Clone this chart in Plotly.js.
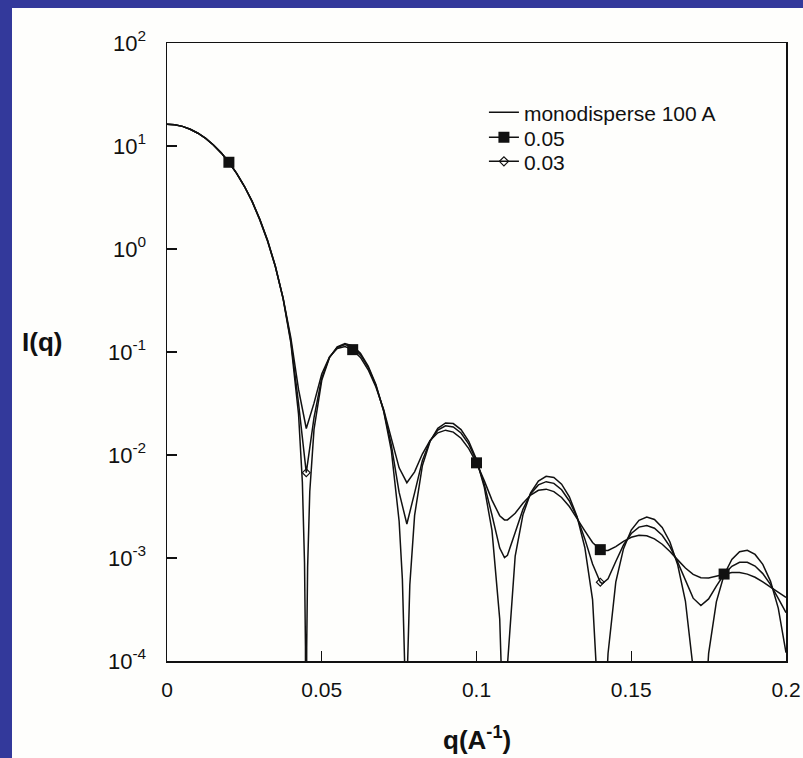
<!DOCTYPE html>
<html>
<head>
<meta charset="utf-8">
<script src="https://cdn.plot.ly/plotly-3.0.1.min.js"></script>
<style>
  html, body { margin: 0; padding: 0; background: #33399b; width: 803px; height: 758px; overflow: hidden; }
  #chart { position: absolute; left: 12px; top: 8px; width: 791px; height: 750px; background: #fefefc; }
</style>
</head>
<body>
<div id="chart"></div>
<script>
// q grid and intensities (log scale, q in 1/Angstrom)
const qMono = [0,0.0025,0.005,0.0075,0.01,0.0125,0.015,0.0175,0.02,0.0225,0.025,0.0275,0.03,0.0325,0.035,0.0375,0.04,0.0425,
  0.043734,0.044434,0.044734,0.044934,0.045134,0.045434,0.046134,
  0.0475,0.05,0.0525,0.055,0.0575,0.06,0.0625,0.065,0.0675,0.07,0.0725,0.075,
  0.076053,0.076753,0.077053,0.077253,0.077453,0.077753,0.078453,
  0.08,0.0825,0.085,0.0875,0.09,0.0925,0.095,0.0975,0.1,0.1025,0.105,0.1075,
  0.108041,0.108541,0.108841,0.109041,0.109241,0.109541,0.11,
  0.1125,0.115,0.1175,0.12,0.1225,0.125,0.1275,0.13,0.1325,0.135,0.1375,
  0.139662,0.14,0.140462,0.140662,0.140862,0.141162,0.141662,
  0.1425,0.145,0.1475,0.15,0.1525,0.155,0.1575,0.16,0.1625,0.165,0.1675,0.17,
  0.171208,0.171708,0.172208,0.1725,0.173208,
  0.175,0.1775,0.18,0.1825,0.185,0.1875,0.19,0.1925,0.195,0.1975,0.2];
const iMono = [16.3,16.097,15.502,14.552,13.306,11.838,10.233,8.577,6.953,5.430,4.066,2.899,1.948,1.2139,0.6836,0.33117,0.12361,0.024939,
  0.005472,8.953e-4,1.3957e-4,1e-8,1.3474e-4,8.198e-4,0.0044295,
  0.017721,0.05306,0.088165,0.1123,0.12101,0.11473,0.097057,0.073156,0.048251,0.026618,0.010963,0.0022761,
  6.2031e-4,1.0393e-4,1.6373e-5,1e-8,1.6036e-5,9.866e-5,5.4752e-4,
  0.002595,0.0078405,0.013612,0.018178,0.020474,0.020181,0.017627,0.013586,0.0090323,0.0048921,0.0018523,2.5674e-4,
  1.0664e-4,2.6192e-5,4.146e-6,1e-8,4.087e-6,2.5266e-5,9.107e-5,
  1.0445e-3,2.625e-3,4.2931e-3,5.5858e-3,6.2028e-3,6.0462e-3,5.2109e-3,3.9337e-3,2.5198e-3,1.2659e-3,3.9497e-4,
  3.8186e-5,1.6624e-5,1.4914e-6,1e-8,1.4914e-6,9.18e-6,3.639e-5,
  1.1826e-4,5.8374e-4,1.2326e-3,1.8686e-3,2.3254e-3,2.4999e-3,2.3672e-3,1.9765e-3,1.4316e-3,8.6022e-4,3.823e-4,8.394e-5,
  1.679e-5,4.156e-6,1e-8,1.4117e-6,1.6458e-5,
  1.1845e-4,3.757e-4,6.8876e-4,9.7014e-4,1.1495e-3,1.1877e-3,1.0829e-3,8.6657e-4,5.9339e-4,3.2613e-4,1.2044e-4];

const qPoly = [0,0.0025,0.005,0.0075,0.01,0.0125,0.015,0.0175,0.02,0.0225,0.025,0.0275,0.03,0.0325,0.035,0.0375,0.04,0.0425,
  0.045,0.0475,0.05,0.0525,0.055,0.0575,0.06,0.0625,0.065,0.0675,0.07,0.0725,0.075,0.0775,
  0.08,0.0825,0.085,0.0875,0.09,0.0925,0.095,0.0975,0.1,0.1025,0.105,0.1075,0.109041,
  0.11,0.1125,0.115,0.1175,0.12,0.1225,0.125,0.1275,0.13,0.1325,0.135,0.1375,0.14,0.140662,
  0.1425,0.145,0.1475,0.15,0.1525,0.155,0.1575,0.16,0.1625,0.165,0.1675,0.17,
  0.1725,0.175,0.1775,0.18,0.1825,0.185,0.1875,0.19,0.1925,0.195,0.1975,0.2];
const iPoly05 = [16.3,16.097,15.502,14.552,13.306,11.838,10.233,8.577,6.953,5.430,4.066,2.899,1.9063,1.1885,0.67441,0.33567,0.13751,0.043277,
  0.018088,0.031884,0.061167,0.089696,0.10816,0.11311,0.10541,0.088584,0.067234,0.045777,0.027609,0.014682,0.0075026,0.0053806,
  0.0068649,0.010213,0.013804,0.016429,0.017425,0.016685,0.014532,0.011549,0.0083934,0.0056343,0.0036478,0.0025752,0.0023446,
  0.0023425,0.0027188,0.0033994,0.0040851,0.0045472,0.0046597,0.0044074,0.0038655,0.0031635,0.0024458,0.0018367,0.0014148,0.0012051,0.0011829,
  0.0011829,0.0012885,0.0014474,0.0015896,0.0016633,0.0016443,0.0015353,0.0013607,0.0011563,0.00095909,0.00079919,0.00069324,
  0.00064369,0.00064059,0.00066569,0.00069846,0.00072128,0.00072225,0.00069731,0.00064972,0.00058762,0.00052127,0.00046096,0.00041369];
const iPoly03 = [16.3,16.097,15.502,14.552,13.306,11.838,10.233,8.577,6.953,5.430,4.066,2.899,1.9326,1.2046,0.68023,0.33281,0.12874,0.031733,
  0.0067332,0.023004,0.056096,0.08874,0.11074,0.11802,0.11118,0.093815,0.070879,0.047294,0.027003,0.012416,0.0043288,0.0021404,
  0.0042916,0.008789,0.013689,0.01747,0.019232,0.018748,0.016349,0.012739,0.0087648,0.0052052,0.0026148,0.0012489,0.0010081,
  0.0010618,0.001772,0.002964,0.0042013,0.0051237,0.0055107,0.0053052,0.0045974,0.0035795,0.0024856,0.0015329,0.00087613,0.00058224,0.00056431,
  0.00062934,0.00092519,0.0013377,0.0017309,0.0019958,0.0020704,0.0019457,0.0016616,0.0012895,0.00091182,0.00060147,0.00040734,
  0.00034556,0.00040082,0.00053383,0.00069405,0.00083179,0.0009097,0.00090987,0.00083505,0.00070546,0.00055127,0.00040554,0.00029454];

// marker positions
const qMark05 = [0.02,0.06,0.1,0.14,0.18];
const iMark05 = [6.953,0.10541,0.0083934,0.0012051,0.00069846];
const qMark03 = [0.045,0.14];
const iMark03 = [0.0067332,0.00058224];

const seriesNames = ['monodisperse 100 A','0.05','0.03'];
const xTickVals = [0,0.05,0.1,0.15,0.2];
const yTickVals = [1e-4,1e-3,1e-2,1e-1,1,10,100];
const yTickText = ['10<sup>-4</sup>','10<sup>-3</sup>','10<sup>-2</sup>','10<sup>-1</sup>','10<sup>0</sup>','10<sup>1</sup>','10<sup>2</sup>'];

const ink = '#111111';
const lw = 1.5;
const FONT = 'Arial, "Liberation Sans", sans-serif';

const traces = [
  {x: qMono, y: iMono, mode: 'lines', name: seriesNames[0], line: {color: ink, width: lw}, showlegend: true, legend: 'legend'},
  {x: qPoly, y: iPoly05, mode: 'lines', name: seriesNames[1], line: {color: ink, width: lw}, showlegend: false},
  {x: qPoly, y: iPoly03, mode: 'lines', name: seriesNames[2], line: {color: ink, width: lw}, showlegend: false},
  {x: qMark05, y: iMark05, mode: 'markers', name: seriesNames[1], marker: {symbol: 'square', size: 11, color: ink}, showlegend: false},
  {x: qMark03, y: iMark03, mode: 'markers', name: seriesNames[2], marker: {symbol: 'diamond-open', size: 6, color: ink, line: {width: 1.2, color: ink}}, showlegend: false},
  {x: [null], y: [null], mode: 'lines+markers', name: seriesNames[1], line: {color: ink, width: lw}, marker: {symbol: 'square', size: 11, color: ink}, legend: 'legend2'},
  {x: [null], y: [null], mode: 'lines+markers', name: seriesNames[2], line: {color: ink, width: lw}, marker: {symbol: 'diamond-open', size: 7, color: ink, line: {width: 1.2, color: ink}}, legend: 'legend3'}
];

const legendBase = {x: 0.512, xanchor: 'left', yanchor: 'top', bgcolor: 'rgba(0,0,0,0)', borderwidth: 0,
                    font: {family: FONT, size: 21, color: ink}};

const layout = {
  width: 791, height: 750,
  margin: {l: 155, r: 17, t: 35, b: 97},
  paper_bgcolor: '#fefefc',
  plot_bgcolor: '#fefefc',
  font: {family: FONT, size: 21, color: ink},
  showlegend: true,
  legend: Object.assign({}, legendBase, {y: 0.9204}),
  legend2: Object.assign({}, legendBase, {y: 0.8799}),
  legend3: Object.assign({}, legendBase, {y: 0.8411}),
  xaxis: {
    range: [0, 0.2], tickvals: xTickVals, ticks: 'inside', ticklen: 10, tickwidth: 1.4, tickcolor: ink,
    showline: true, mirror: true, linecolor: ink, linewidth: 1.5, showgrid: false, zeroline: false,
    tickfont: {family: FONT, size: 21, color: ink}, ticklabelstandoff: 9
  },
  yaxis: {
    type: 'log', range: [-4, 2], tickvals: yTickVals, ticktext: yTickText, ticks: 'inside', ticklen: 10, tickwidth: 1.4, tickcolor: ink,
    showline: true, mirror: true, linecolor: ink, linewidth: 1.5, showgrid: false, zeroline: false,
    tickfont: {family: FONT, size: 22, color: ink}, ticklabelstandoff: 15
  },
  annotations: [
    {text: '<b>I(q)</b>', xref: 'paper', yref: 'paper', x: -0.202, y: 0.516, xanchor: 'center', yanchor: 'middle', showarrow: false,
     font: {family: FONT, size: 26, color: ink}},
    {text: '<b>q(A<sup>-1</sup>)</b>', xref: 'paper', yref: 'paper', x: 0.5, y: -0.125, xanchor: 'center', yanchor: 'middle', showarrow: false,
     font: {family: FONT, size: 26, color: ink}}
  ]
};

Plotly.newPlot('chart', traces, layout, {displayModeBar: false, staticPlot: true});
</script>
</body>
</html>
